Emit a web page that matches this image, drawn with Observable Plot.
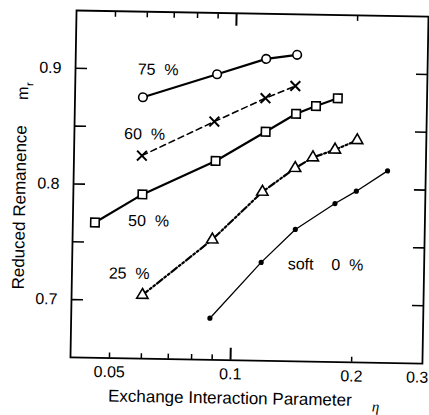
<!DOCTYPE html>
<html>
<head>
<meta charset="utf-8">
<script src="https://cdn.jsdelivr.net/npm/d3@7"></script>
<script src="https://cdn.jsdelivr.net/npm/@observablehq/plot@0.6"></script>
<style>
  html, body { margin: 0; padding: 0; background: #fff; }
  #chart { width: 429px; height: 415px; overflow: hidden; }
  #chart svg { display: block; transform: rotate(1deg); transform-origin: 249px 186px; }
</style>
</head>
<body>
<div id="chart"></div>
<script>
// ---- data ----
const series = ["75 %", "60 %", "50 %", "25 %", "soft 0 %"];

const eta75 = [0.059, 0.090, 0.119, 0.142];
const m75   = [0.876, 0.897, 0.911, 0.915];

const eta60 = [0.059, 0.089, 0.119, 0.141];
const m60   = [0.8255, 0.856, 0.877, 0.888];

const eta50 = [0.0454, 0.0594, 0.090, 0.1195, 0.142, 0.159, 0.180];
const m50   = [0.767, 0.792, 0.822, 0.848, 0.864, 0.871, 0.878];

const eta25 = [0.060, 0.089, 0.118, 0.142, 0.157, 0.178, 0.202];
const m25   = [0.705, 0.754, 0.796, 0.817, 0.8265, 0.8335, 0.842];

const eta0  = [0.0885, 0.118, 0.143, 0.179, 0.202, 0.241];
const m0    = [0.686, 0.735, 0.764, 0.787, 0.798, 0.816];

// annotation labels (text, eta, m)
const labelText = ["75\u00a0\u00a0%", "60\u00a0\u00a0%", "50\u00a0\u00a0%", "25\u00a0\u00a0%", "soft\u00a0\u00a0\u00a0\u00a00\u00a0\u00a0%"];
const labelEta  = [0.0642, 0.0598, 0.0617, 0.0555, 0.1706];
const labelM    = [0.900, 0.844, 0.769, 0.7233, 0.734];

// axes
const xDomain = [0.04, 0.3];
const yDomain = [0.65, 0.95];
const xTickLabels = [0.05, 0.1, 0.2];
const xLastLabel = [0.3];
const xMinorTicks = [0.05, 0.06, 0.07, 0.08, 0.09, 0.2];
const xMajorTicks = [0.1];
const yTicks = [0.7, 0.75, 0.8, 0.85, 0.9];
const yTickLabels = [0.7, 0.8, 0.9];
const xTitle = "Exchange Interaction Parameter";
const yTitle = "Reduced Remanence";

// ---- build tables ----
const mk = (etas, ms) => etas.map((e, i) => ({eta: e, m: ms[i]}));
const d75 = mk(eta75, m75), d60 = mk(eta60, m60), d50 = mk(eta50, m50), d25 = mk(eta25, m25), d0 = mk(eta0, m0);
const labels = labelText.map((t, i) => ({t, eta: labelEta[i], m: labelM[i]}));

const noText = () => "";

const chart = Plot.plot({
  width: 429,
  height: 415,
  marginLeft: 73,
  marginRight: 4,
  marginTop: 13,
  marginBottom: 55,
  style: {fontFamily: "'Liberation Sans', Arial, sans-serif", fontSize: "16px", background: "white", overflow: "visible"},
  x: {type: "log", domain: xDomain, axis: null, label: null},
  y: {domain: yDomain, axis: null, label: null},
  marks: [
    Plot.frame({stroke: "black", strokeWidth: 1.8}),
    // inward ticks
    Plot.axisY(yTicks, {anchor: "left", tickSize: 12, dx: 12, tickFormat: noText, label: null, strokeWidth: 1.6}),
    Plot.axisY(yTicks, {anchor: "right", tickSize: 12, dx: -12, tickFormat: noText, label: null, strokeWidth: 1.6}),
    Plot.axisX(xMinorTicks, {anchor: "bottom", tickSize: 5, dy: -5, tickFormat: noText, label: null, strokeWidth: 1.5}),
    Plot.axisX(xMajorTicks, {anchor: "bottom", tickSize: 12, dy: -12, tickFormat: noText, label: null, strokeWidth: 2}),
    Plot.axisX(xMinorTicks, {anchor: "top", tickSize: 5, dy: 5, tickFormat: noText, label: null, strokeWidth: 1.5}),
    Plot.axisX(xMajorTicks, {anchor: "top", tickSize: 12, dy: 12, tickFormat: noText, label: null, strokeWidth: 2}),
    // tick labels
    Plot.text(yTickLabels, {y: d => d, text: d => d.toFixed(1), frameAnchor: "left", textAnchor: "end", dx: -14, fontSize: 16}),
    Plot.text(xTickLabels, {x: d => d, text: d => String(d), frameAnchor: "bottom", lineAnchor: "middle", dy: 14, fontSize: 16}),
    Plot.text(xLastLabel, {x: d => d, text: d => String(d), frameAnchor: "bottom", lineAnchor: "middle", dy: 14, dx: -5, fontSize: 16}),
    // axis titles
    Plot.text([xTitle], {x: () => 0.1, text: d => d, frameAnchor: "bottom", textAnchor: "middle", lineAnchor: "middle", dy: 38, fontSize: 17}),
    Plot.text(["\u03b7"], {x: () => 0.2304, text: d => d, frameAnchor: "bottom", textAnchor: "middle", lineAnchor: "middle", dy: 44, fontSize: 15, fontStyle: "italic", fontFamily: "'Liberation Serif', serif"}),
    Plot.text([yTitle], {y: () => 0.779, text: d => d, frameAnchor: "left", textAnchor: "middle", rotate: -90, lineAnchor: "bottom", dx: -48, fontSize: 17}),
    Plot.text(["m"], {y: () => 0.8777, text: d => d, frameAnchor: "left", textAnchor: "middle", rotate: -90, lineAnchor: "bottom", dx: -47, fontSize: 16}),
    Plot.text(["r"], {y: () => 0.8856, text: d => d, frameAnchor: "left", textAnchor: "middle", rotate: -90, lineAnchor: "bottom", dx: -42, fontSize: 11}),
    // series lines
    Plot.line(d75, {x: "eta", y: "m", stroke: "black", strokeWidth: 2.2}),
    Plot.line(d60, {x: "eta", y: "m", stroke: "black", strokeWidth: 1.6, strokeDasharray: "6,4"}),
    Plot.line(d50, {x: "eta", y: "m", stroke: "black", strokeWidth: 2.2}),
    Plot.line(d25, {x: "eta", y: "m", stroke: "black", strokeWidth: 2.2, strokeDasharray: "7,2.5,2,2.5,2,2.5"}),
    Plot.line(d0,  {x: "eta", y: "m", stroke: "black", strokeWidth: 1.3}),
    // markers
    Plot.dot(d75, {x: "eta", y: "m", symbol: "circle", r: 4.3, stroke: "black", strokeWidth: 1.6, fill: "white"}),
    Plot.dot(d60, {x: "eta", y: "m", symbol: "times", r: 4.5, stroke: "black", strokeWidth: 2}),
    Plot.dot(d50, {x: "eta", y: "m", symbol: "square", r: 4.8, stroke: "black", strokeWidth: 1.6, fill: "white"}),
    Plot.dot(d25, {x: "eta", y: "m", symbol: "triangle", r: 4.2, stroke: "black", strokeWidth: 1.6, fill: "white"}),
    Plot.dot(d0,  {x: "eta", y: "m", symbol: "circle", r: 2.6, fill: "black", stroke: "none"}),
    // series annotations
    Plot.text(labels, {x: "eta", y: "m", text: "t", fontSize: 16, lineAnchor: "middle"})
  ]
});

document.getElementById("chart").appendChild(chart);
</script>
</body>
</html>
